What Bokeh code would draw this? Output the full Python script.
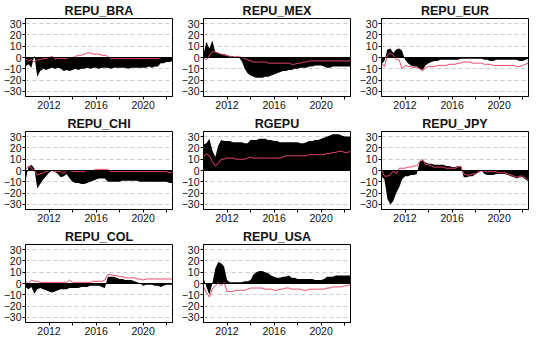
from bokeh.plotting import figure
from bokeh.layouts import column, row
from bokeh.models import Range1d, FixedTicker, Span, Spacer, ColumnDataSource
from bokeh.embed import file_html
from bokeh.resources import INLINE

# quarterly dates 2010Q1 .. 2022Q3
quarters = [2010 + 0.25 * i for i in range(51)]

titles = ["REPU_BRA", "REPU_MEX", "REPU_EUR", "REPU_CHI", "RGEPU", "REPU_JPY", "REPU_COL", "REPU_USA"]

bra_black = [-8, -6, -9, 2, -17, -12, -10, -11, -10, -9, -10, -9, -10, -12, -11, -12,
             -11, -10, -11, -10, -10, -9, -10, -9, -9, -10, -9, -9, -9, -10, -9, -9,
             -9, -9, -9, -10, -9, -9, -9, -9, -9, -9, -8, -9, -8, -8, -5, -5, -4, -4, -3]
bra_red = [-1, -3, -2, -4, -2, -2, -1, -1, 0, 1, -1, -1, -1, -1, -1, 0,
           0, 1, 2, 2, 3, 4, 4, 3, 3, 3, 2, 2, 1, -1, -1, -1,
           -1, -1, -1, -1, -1, -1, -1, -1, -1, -1, -1, -1, -1, -1, 0, 0, 0, 0, 0]

mex_black = [3, 14, 8, 15, 5, 4, 3, 3, 2, 1, 1, 0, 0, -3, -10, -14,
             -16, -17, -18, -18, -18, -17, -17, -16, -15, -14, -13, -12, -12, -11, -11, -10,
             -10, -9, -9, -9, -8, -8, -7, -7, -7, -8, -9, -9, -8, -8, -8, -8, -8, -8, -8]
mex_red = [0, -2, 2, 5, 5, 4, 3, 2, 2, 1, 0, 1, 1, 0, -1, -2,
           -3, -4, -4, -4, -4, -4, -5, -5, -5, -5, -5, -5, -5, -5, -6, -6,
           -5, -5, -4, -4, -3, -3, -3, -3, -3, -3, -3, -3, -3, -3, -3, -3, -3, -3, -3]

eur_black = [-6, -3, 7, 8, 4, 7, 8, 6, -2, -5, -7, -8, -8, -10, -11, -7,
             -5, -4, -3, -3, -2, -2, -2, -2, -2, -2, -2, -1, -1, -1, -1, -1,
             -1, -1, -1, -2, -2, -3, -3, -2, -2, -2, -2, -2, -2, -2, -2, -3, -3, -2, -1]
eur_red = [-5, -8, 2, 4, 2, -2, -2, -10, -7, -8, -8, -9, -9, -10, -12, -9,
           -8, -8, -8, -7, -7, -7, -7, -6, -6, -6, -5, -5, -4, -4, -4, -5,
           -5, -5, -5, -6, -6, -6, -7, -7, -7, -7, -7, -7, -7, -7, -8, -8, -7, -6, -5]

chi_black = [-9, 3, 5, 2, -16, -12, -8, -5, -2, 0, -1, -3, -6, -5, -3, -7,
             -10, -11, -11, -12, -12, -11, -10, -9, -8, -7, -7, -7, -10, -10, -10, -10,
             -10, -9, -9, -9, -9, -9, -9, -10, -10, -10, -10, -10, -10, -10, -10, -10, -10, -11, -11]
chi_red = [1, 4, 2, 0, -4, -3, -2, -1, 0, 0, -1, -1, -1, -3, 0, 0,
           -1, -1, -1, -1, -1, 0, 0, 0, 1, 1, 1, 1, 1, -1, -1, -1,
           -1, -1, -1, -1, -1, -1, -1, -1, -1, -1, -1, -1, -1, -1, -1, -1, -1, -2, -2]

rgepu_black = [23, 24, 28, 18, 12, 22, 27, 26, 26, 26, 25, 25, 25, 25, 24, 24,
               27, 27, 27, 28, 28, 28, 27, 27, 26, 26, 25, 25, 25, 25, 25, 25,
               25, 24, 24, 25, 26, 26, 27, 27, 28, 29, 30, 31, 32, 32, 32, 31, 30, 30, 30]
rgepu_red = [12, 15, 13, 8, 4, 6, 10, 10, 11, 11, 11, 10, 10, 10, 10, 11,
             12, 11, 11, 11, 11, 11, 11, 11, 11, 11, 11, 12, 13, 13, 13, 13,
             13, 13, 13, 13, 14, 14, 14, 14, 14, 14, 15, 15, 16, 16, 17, 17, 16, 16, 17]

jpy_black = [-5, -8, -25, -30, -27, -20, -15, -8, -5, -5, -4, -4, -3, 8, 9, 7,
             6, 6, 5, 5, 5, 5, 4, 4, 3, 3, 4, 3, -6, -6, -5, -5,
             -3, -2, 0, -3, -4, -4, -4, -3, -3, -3, -3, -4, -5, -6, -7, -6, -6, -8, -10]
jpy_red = [1, -5, -5, -4, 0, -3, 2, 2, 2, 3, 3, 4, 4, 8, 10, 5,
           5, 4, 3, 3, 3, 3, 2, 2, 2, 2, 3, 4, -3, -4, -4, -3,
           -3, -1, 0, -1, -1, -1, -1, -1, -2, -2, -2, -3, -4, -5, -6, -5, -5, -7, -9]

col_black = [-3, -5, -3, -9, -5, -4, -5, -6, -7, -8, -7, -6, -5, -5, -5, -4,
             -4, -4, -4, -3, -3, -3, -2, -2, -2, -2, -3, -4, 6, 6, 6, 5,
             4, 4, 3, 3, 3, 2, 1, 0, -2, -1, -1, -1, -2, -2, -3, -2, -1, -1, -1]
col_red = [2, 0, 3, 2, 2, 1, 1, 1, 1, 1, 1, 1, 1, 1, 1, 3,
           1, 1, 1, 1, 1, 1, 1, 2, 2, 2, 2, 3, 8, 8, 7, 7,
           6, 6, 5, 5, 5, 5, 4, 4, 3, 4, 4, 4, 4, 4, 4, 4, 4, 4, 4]

usa_black = [5, -3, -10, 0, 13, 19, 18, 15, 3, 1, 1, 1, 1, 1, 2, 2,
             3, 8, 10, 11, 11, 10, 9, 7, 6, 5, 5, 6, 6, 7, 5, 5,
             4, 4, 4, 4, 4, 4, 3, 3, 3, 4, 6, 6, 6, 7, 7, 7, 7, 7, 7]
usa_red = [-3, -8, -12, -5, -2, 1, -2, 1, -7, -7, -7, -6, -6, -6, -6, -5,
           -4, -4, -4, -4, -4, -5, -5, -5, -6, -6, -5, -5, -4, -4, -5, -5,
           -5, -5, -6, -6, -5, -5, -5, -5, -5, -5, -4, -4, -3, -3, -3, -3, -2, -2, -1]

black_series = [bra_black, mex_black, eur_black, chi_black, rgepu_black, jpy_black, col_black, usa_black]
red_series = [bra_red, mex_red, eur_red, chi_red, rgepu_red, jpy_red, col_red, usa_red]

y_ticks = [-30, -20, -10, 0, 10, 20, 30]
x_ticks = [2012, 2014, 2016, 2018, 2020, 2022]
x_labels = {2012: "2012", 2014: "", 2016: "2016", 2018: "", 2020: "2020", 2022: ""}

FONT = "Liberation Sans"
RED = "#e8476a"


def make_panel(title, blk, red):
    p = figure(width=178, height=113, output_backend="svg", toolbar_location=None,
               x_range=Range1d(2010, 2022.5), y_range=Range1d(-34.5, 34.5),
               min_border_left=23, min_border_right=6, min_border_top=17, min_border_bottom=17,
               title=title)
    p.title.text_font = FONT
    p.title.text_font_size = "12.5px"
    p.title.text_font_style = "bold"
    p.title.text_color = "#111111"
    p.title.align = "center"
    p.title.standoff = 2
    p.title.offset = 0

    src = ColumnDataSource(dict(x=quarters, blk=blk, red=red, zero=[0] * len(quarters)))
    p.varea(x="x", y1="zero", y2="blk", source=src, fill_color="black")
    p.add_layout(Span(location=0, dimension="width", line_color="black", line_width=1))
    p.line(x="x", y="red", source=src, line_color=RED, line_width=1)

    p.outline_line_color = "black"
    p.outline_line_width = 1
    p.outline_line_alpha = 1
    p.background_fill_color = "white"
    p.border_fill_color = "white"

    p.xgrid.visible = False
    p.ygrid.ticker = FixedTicker(ticks=[-30, -20, -10, 10, 20, 30])
    p.ygrid.grid_line_color = "#cccccc"
    p.ygrid.grid_line_dash = "4 3"
    p.ygrid.grid_line_width = 1

    p.yaxis.ticker = FixedTicker(ticks=y_ticks)
    p.xaxis.ticker = FixedTicker(ticks=x_ticks)
    p.xaxis.major_label_overrides = x_labels
    for ax in (p.xaxis[0], p.yaxis[0]):
        ax.axis_line_color = "black"
        ax.major_tick_line_color = "black"
        ax.major_tick_out = 3
        ax.major_tick_in = 0
        ax.minor_tick_line_color = None
        ax.major_label_text_font = FONT
        ax.major_label_text_font_size = "10.5px"
        ax.major_label_text_color = "#111111"
        ax.major_label_standoff = 1
    return p


panels = [make_panel(t, b, r) for t, b, r in zip(titles, black_series, red_series)]

layout = column(
    row(panels[0], panels[1], panels[2]),
    row(panels[3], panels[4], panels[5]),
    row(panels[6], panels[7], Spacer(width=178, height=113)),
)

open("out.html", "w").write(file_html(layout, INLINE))
